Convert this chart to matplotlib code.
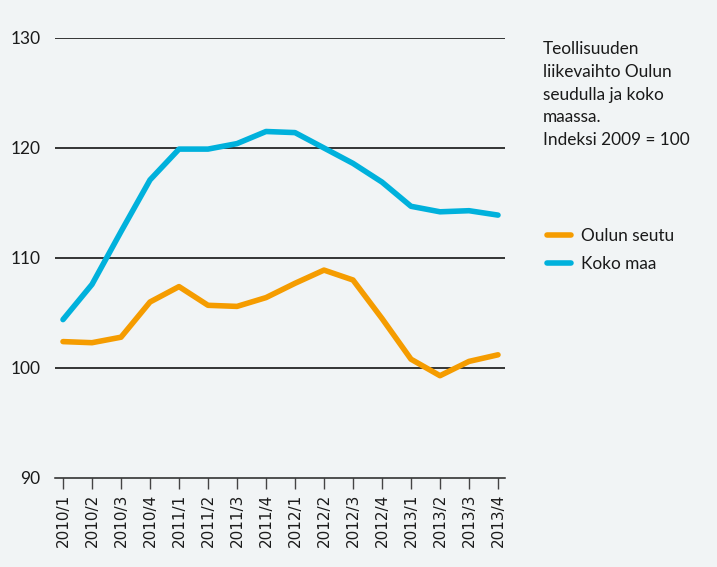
import matplotlib
matplotlib.use("Agg")
import matplotlib.pyplot as plt

quarters = ["2010/1", "2010/2", "2010/3", "2010/4", "2011/1", "2011/2", "2011/3", "2011/4",
            "2012/1", "2012/2", "2012/3", "2012/4", "2013/1", "2013/2", "2013/3", "2013/4"]
oulun_seutu = [102.4, 102.3, 102.8, 106.0, 107.4, 105.7, 105.6, 106.4,
               107.7, 108.9, 108.0, 104.5, 100.8, 99.3, 100.6, 101.2]
koko_maa = [104.4, 107.6, 112.4, 117.1, 119.9, 119.9, 120.4, 121.5,
            121.4, 120.0, 118.6, 116.9, 114.7, 114.2, 114.3, 113.9]
yticks = [90, 100, 110, 120, 130]

BG = "#f1f4f5"
ORANGE = "#f59c00"
BLUE = "#00b1dc"
TXT = "#1a1a1a"

W, H = 717, 567
fig = plt.figure(figsize=(W / 100, H / 100), dpi=100, facecolor=BG)
ax = fig.add_axes([55 / W, (H - 478) / H, 450 / W, 440 / H])
ax.set_facecolor(BG)

x = list(range(len(quarters)))
for y in yticks[1:]:
    ax.axhline(y, color="black", lw=1.1, zorder=1)
l1, = ax.plot(x, oulun_seutu, color=ORANGE, lw=4, solid_capstyle="round", solid_joinstyle="round", zorder=3)
l2, = ax.plot(x, koko_maa, color=BLUE, lw=4, solid_capstyle="round", solid_joinstyle="round", zorder=3)

ax.set_ylim(90, 130)
ax.set_xlim(-8 / 29, 15 + 7 / 29)
ax.set_yticks(yticks)
ax.set_yticklabels([str(v) for v in yticks], fontsize=12.5, color=TXT, family="Lato")
ax.set_xticks(x)
ax.set_xticklabels(quarters, rotation=90, fontsize=11,
                   family=["Liberation Sans Narrow", "DejaVu Sans"], color=TXT)
for s in ["left", "right", "top"]:
    ax.spines[s].set_visible(False)
ax.spines["bottom"].set_color("#222222")
ax.spines["bottom"].set_linewidth(1.1)
ax.tick_params(axis="y", length=0, pad=10.5)
ax.tick_params(axis="x", direction="out", length=8, width=1, color="#444444", pad=3)

fig.text(543 / W, 1 - 41 / H,
         "Teollisuuden\nliikevaihto Oulun\nseudulla ja koko\nmaassa.\nIndeksi 2009 = 100",
         fontsize=12.4, family="Lato", color=TXT, va="top", ha="left", linespacing=1.52)

fig.legend([l1, l2], ["Oulun seutu", "Koko maa"], loc="upper left",
           bbox_to_anchor=(531 / W, 1 - 213 / H), frameon=False,
           prop={"family": "Lato", "size": 12.4}, handlelength=1.45, handletextpad=0.55,
           labelspacing=0.65, labelcolor=TXT)

fig.savefig("out.png", dpi=100, facecolor=BG)
